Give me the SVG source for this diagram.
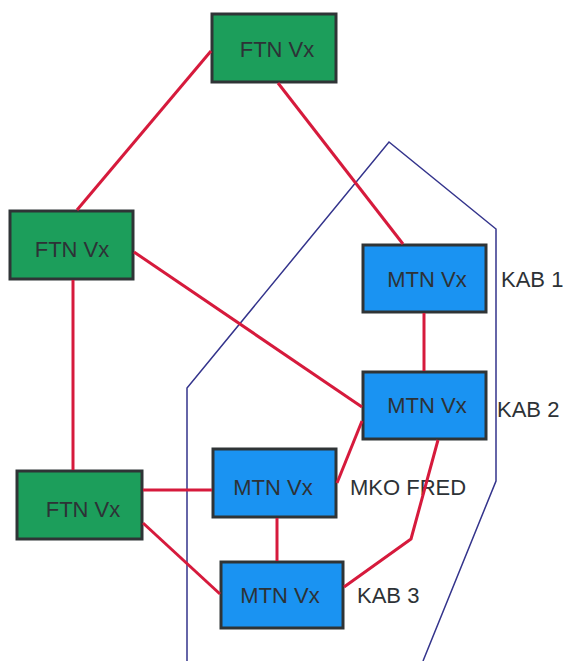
<svg xmlns="http://www.w3.org/2000/svg" width="563" height="661" viewBox="0 0 563 661">
<style>
.ftn{fill:#1c9e5b;stroke:#2f3436;stroke-width:3}
.mtn{fill:#1a93f2;stroke:#2f3436;stroke-width:3}
.t{font-family:"Liberation Sans",Arial,sans-serif;font-size:22px;fill:#2d3236}
.c{text-anchor:middle}
.link{stroke:#d61a3c;stroke-width:3;fill:none;stroke-linecap:butt;stroke-linejoin:round}
.zone{stroke:#34348c;stroke-width:1.5;fill:none}
</style>
<rect width="563" height="661" fill="#ffffff"/>
<polyline class="zone" points="187,661 187,388 389,142 496,229 496,481 423,661"/>
<g id="ftn1"><rect class="ftn" x="212" y="14" width="124" height="68"/><text class="t c" x="277" y="57">FTN Vx</text></g>
<g id="ftn2"><rect class="ftn" x="10" y="211" width="123" height="68"/><text class="t c" x="72" y="257">FTN Vx</text></g>
<g id="ftn3"><rect class="ftn" x="17" y="471" width="125" height="68"/><text class="t c" x="83" y="517">FTN Vx</text></g>
<g id="kab1"><rect class="mtn" x="363" y="245" width="123" height="67"/><text class="t c" x="427" y="287">MTN Vx</text><text class="t" x="501" y="287">KAB 1</text></g>
<g id="kab2"><rect class="mtn" x="363" y="372" width="123" height="67"/><text class="t c" x="427" y="413">MTN Vx</text><text class="t" x="497" y="417">KAB 2</text></g>
<g id="mko"><rect class="mtn" x="213" y="449" width="123" height="68"/><text class="t c" x="273" y="495">MTN Vx</text><text class="t" x="350" y="495">MKO FRED</text></g>
<g id="kab3"><rect class="mtn" x="221" y="562" width="122" height="66"/><text class="t c" x="280" y="603">MTN Vx</text><text class="t" x="357" y="603">KAB 3</text></g>
<g id="connectors">
<line class="link" x1="211" y1="51" x2="77" y2="210"/>
<line class="link" x1="278" y1="83" x2="403" y2="244"/>
<line class="link" x1="134" y1="252" x2="362" y2="407"/>
<line class="link" x1="73" y1="280" x2="73" y2="470"/>
<line class="link" x1="424" y1="313" x2="424" y2="371"/>
<line class="link" x1="362" y1="421" x2="337" y2="483"/>
<polyline class="link" points="438,440 411,539 344,587"/>
<line class="link" x1="143" y1="490" x2="212" y2="490"/>
<line class="link" x1="143" y1="523" x2="220" y2="594"/>
<line class="link" x1="277" y1="518" x2="277" y2="561"/>
</g>
</svg>
